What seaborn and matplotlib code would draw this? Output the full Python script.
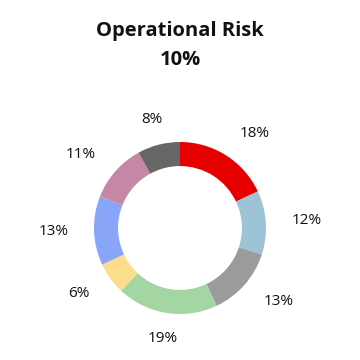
import matplotlib
matplotlib.use("Agg")
import matplotlib.pyplot as plt
import seaborn as sns

TITLE = "Operational Risk"
SUBTITLE = "10%"

categories = ["A", "B", "C", "D", "E", "F", "G", "H"]
values = [18, 12, 13, 19, 6, 13, 11, 8]
labels = ["18%", "12%", "13%", "19%", "6%", "13%", "11%", "8%"]
colors = ["#E60000", "#9DC3D6", "#9B9B9B", "#A3D6A3",
          "#FCDD8B", "#89A5F7", "#C587A5", "#666666"]


def main():
    sns.set_theme(style="white")
    plt.rcParams["font.family"] = ["Open Sans", "DejaVu Sans"]

    fig = plt.figure(figsize=(3.6, 3.6), dpi=100)
    fig.patch.set_facecolor("white")

    # ring centred at (180, 228) px, outer radius ~86 px
    ax = fig.add_axes([94 / 360, 46 / 360, 172 / 360, 172 / 360])
    wedges, texts = ax.pie(
        values,
        labels=labels,
        colors=colors,
        startangle=90,
        counterclock=False,
        radius=1,
        labeldistance=1.3,
        wedgeprops=dict(width=0.28, edgecolor="none"),
        textprops=dict(fontsize=11, color="#111111"),
    )
    for t in texts:
        x, _ = t.get_position()
        if abs(x) < 0.45:
            t.set_horizontalalignment("center")
    ax.set_xlim(-1, 1)
    ax.set_ylim(-1, 1)
    ax.set_aspect("equal")
    ax.axis("off")

    fig.text(0.5, 1 - 31 / 360, TITLE, ha="center", va="center",
             fontsize=14.5, fontweight="bold", color="#111111")
    fig.text(0.5, 1 - 60 / 360, SUBTITLE, ha="center", va="center",
             fontsize=14.5, fontweight="bold", color="#111111")

    fig.savefig("out.png", dpi=100)
    plt.close(fig)


if __name__ == "__main__":
    main()
